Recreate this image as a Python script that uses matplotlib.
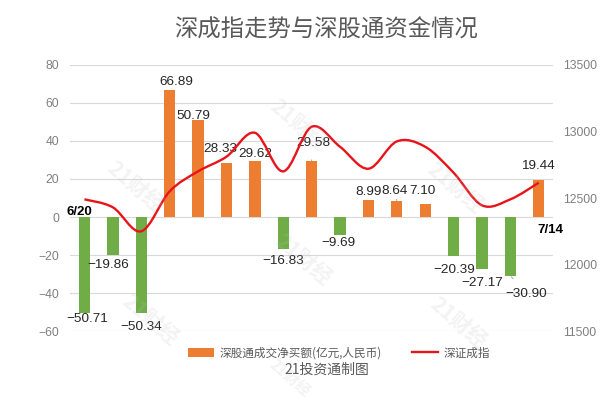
import matplotlib
matplotlib.use("Agg")
import matplotlib.pyplot as plt
from matplotlib.path import Path
from matplotlib.patches import PathPatch, Patch
from matplotlib.lines import Line2D

plt.rcParams['font.family'] = ['Liberation Sans', 'Noto Sans CJK SC', 'DejaVu Sans']
plt.rcParams['axes.unicode_minus'] = True

# 数据
dates = ['6/20', '6/21', '6/22', '6/25', '6/26', '6/27', '6/28', '6/29', '7/2',
         '7/3', '7/4', '7/5', '7/6', '7/9', '7/10', '7/11', '7/14']
flow = [-50.71, -19.86, -50.34, 66.89, 50.79, 28.33, 29.62, -16.83, 29.58,
        -9.69, 8.99, 8.64, 7.10, -20.39, -27.17, -30.90, 19.44]
szse = [12490, 12430, 12250, 12550, 12700, 12810, 12990, 12700, 13035,
        12885, 12720, 12925, 12885, 12690, 12445, 12490, 12615]
left_ticks = [-60, -40, -20, 0, 20, 40, 60, 80]
right_ticks = [11500, 12000, 12500, 13000, 13500]

# 标签偏移(像素)
lab_off = [(3, -6), (-5, -10), (0, -14), (7, 8), (-5, 4), (-6, 14), (0, 7), (0, -12), (2, 18),
           (-2, -8), (0, 8), (-2, 10), (-3, 13), (1, -14), (0, -14), (16, -18), (-1, 14)]

orange = '#ED7D31'
green = '#70AD47'
grey_txt = '#808080'

fig = plt.figure(figsize=(6.11, 3.98), dpi=100)
ax = fig.add_axes([0.115, 0.168, 0.79, 0.669])
ax2 = ax.twinx()

x = list(range(len(flow)))
colors = [orange if v >= 0 else green for v in flow]
ax.bar(x, flow, width=0.40, color=colors, zorder=2)

ax.set_xlim(-0.5, len(flow) - 0.5)
ax.set_ylim(-60, 80)
ax.set_yticks(left_ticks)
ax.set_yticklabels([f'{t}'.replace('-', '\u2212') for t in left_ticks])
ax.grid(axis='y', color='#D9D9D9', linewidth=0.8, zorder=0)
ax.set_xticks([])
for s in ax.spines.values():
    s.set_visible(False)
for s in ax2.spines.values():
    s.set_visible(False)
ax.tick_params(axis='y', length=0, labelsize=8.7, labelcolor=grey_txt, pad=8)

ax2.set_ylim(11500, 13500)
ax2.set_yticks(right_ticks)
ax2.tick_params(axis='y', length=0, labelsize=8.7, labelcolor=grey_txt, pad=7)

# 平滑折线 (Catmull-Rom -> Bezier)
pts = list(zip(x, szse))
verts = [pts[0]]
codes = [Path.MOVETO]
for i in range(len(pts) - 1):
    p0 = pts[i - 1] if i > 0 else pts[i]
    p1 = pts[i]
    p2 = pts[i + 1]
    p3 = pts[i + 2] if i + 2 < len(pts) else pts[i + 1]
    c1 = (p1[0] + (p2[0] - p0[0]) / 6, p1[1] + (p2[1] - p0[1]) / 6)
    c2 = (p2[0] - (p3[0] - p1[0]) / 6, p2[1] - (p3[1] - p1[1]) / 6)
    verts += [c1, c2, p2]
    codes += [Path.CURVE4] * 3
ax2.add_patch(PathPatch(Path(verts, codes), facecolor='none', edgecolor='#E8141B',
                        linewidth=1.7, zorder=3))

# 数据标签
leader = {8, 11, 15}
for i, v in enumerate(flow):
    dx, dy = lab_off[i]
    txt = f'{v:.2f}'.replace('-', '\u2212')
    kw = {}
    if i in leader:
        kw['arrowprops'] = dict(arrowstyle='-', color='#A6A6A6', lw=0.7,
                                shrinkA=6, shrinkB=1)
    ax.annotate(txt, xy=(i, v), xytext=(dx, dy), textcoords='offset pixels',
                ha='center', va='center', fontsize=9.7, color='#262626', zorder=5, **kw)

ax.annotate(dates[0], xy=(0, 0), xytext=(-5, 5), textcoords='offset pixels',
            ha='center', va='center', fontsize=9.5, fontweight='bold', color='black')
ax.annotate(dates[-1], xy=(len(flow) - 1, 0), xytext=(12, -13), textcoords='offset pixels',
            ha='center', va='center', fontsize=9.5, fontweight='bold', color='black')

# 标题
fig.text(0.534, 1 - 30 / 398, '深成指走势与深股通资金情况', ha='center', va='center',
         fontsize=16.8, color='#595959', family=['Noto Sans CJK SC'])

# 图例
handles = [Patch(facecolor=orange, edgecolor='none'),
           Line2D([0], [0], color='#E8141B', linewidth=1.7)]
fig.legend(handles, ['深股通成交净买额(亿元,人民币)', '深证成指'], loc='center',
           bbox_to_anchor=(0.555, 1 - 353 / 398), ncol=2, frameon=False,
           prop={'family': ['Noto Sans CJK SC'], 'size': 8.4}, labelcolor='#595959',
           handlelength=2.2, handleheight=0.7, handletextpad=0.5, columnspacing=2.6)
fig.text(327 / 611, 1 - 370 / 398, '21投资通制图', ha='center', va='center',
         fontsize=10, color='#595959', family=['Noto Sans CJK SC'])

# 水印
for wx, wy, fs in [(135, 187, 15), (150, 320, 15), (298, 125, 15), (303, 260, 15),
                   (455, 188, 15), (458, 323, 15), (290, 378, 11)]:
    fig.text(wx / 611, 1 - wy / 398, '21财经', ha='center', va='center', rotation=-40,
             fontsize=fs, fontweight='bold', color='#BFBFBF', alpha=0.18,
             family=['Noto Sans CJK SC'], zorder=10)

fig.savefig('out.png', dpi=100)
